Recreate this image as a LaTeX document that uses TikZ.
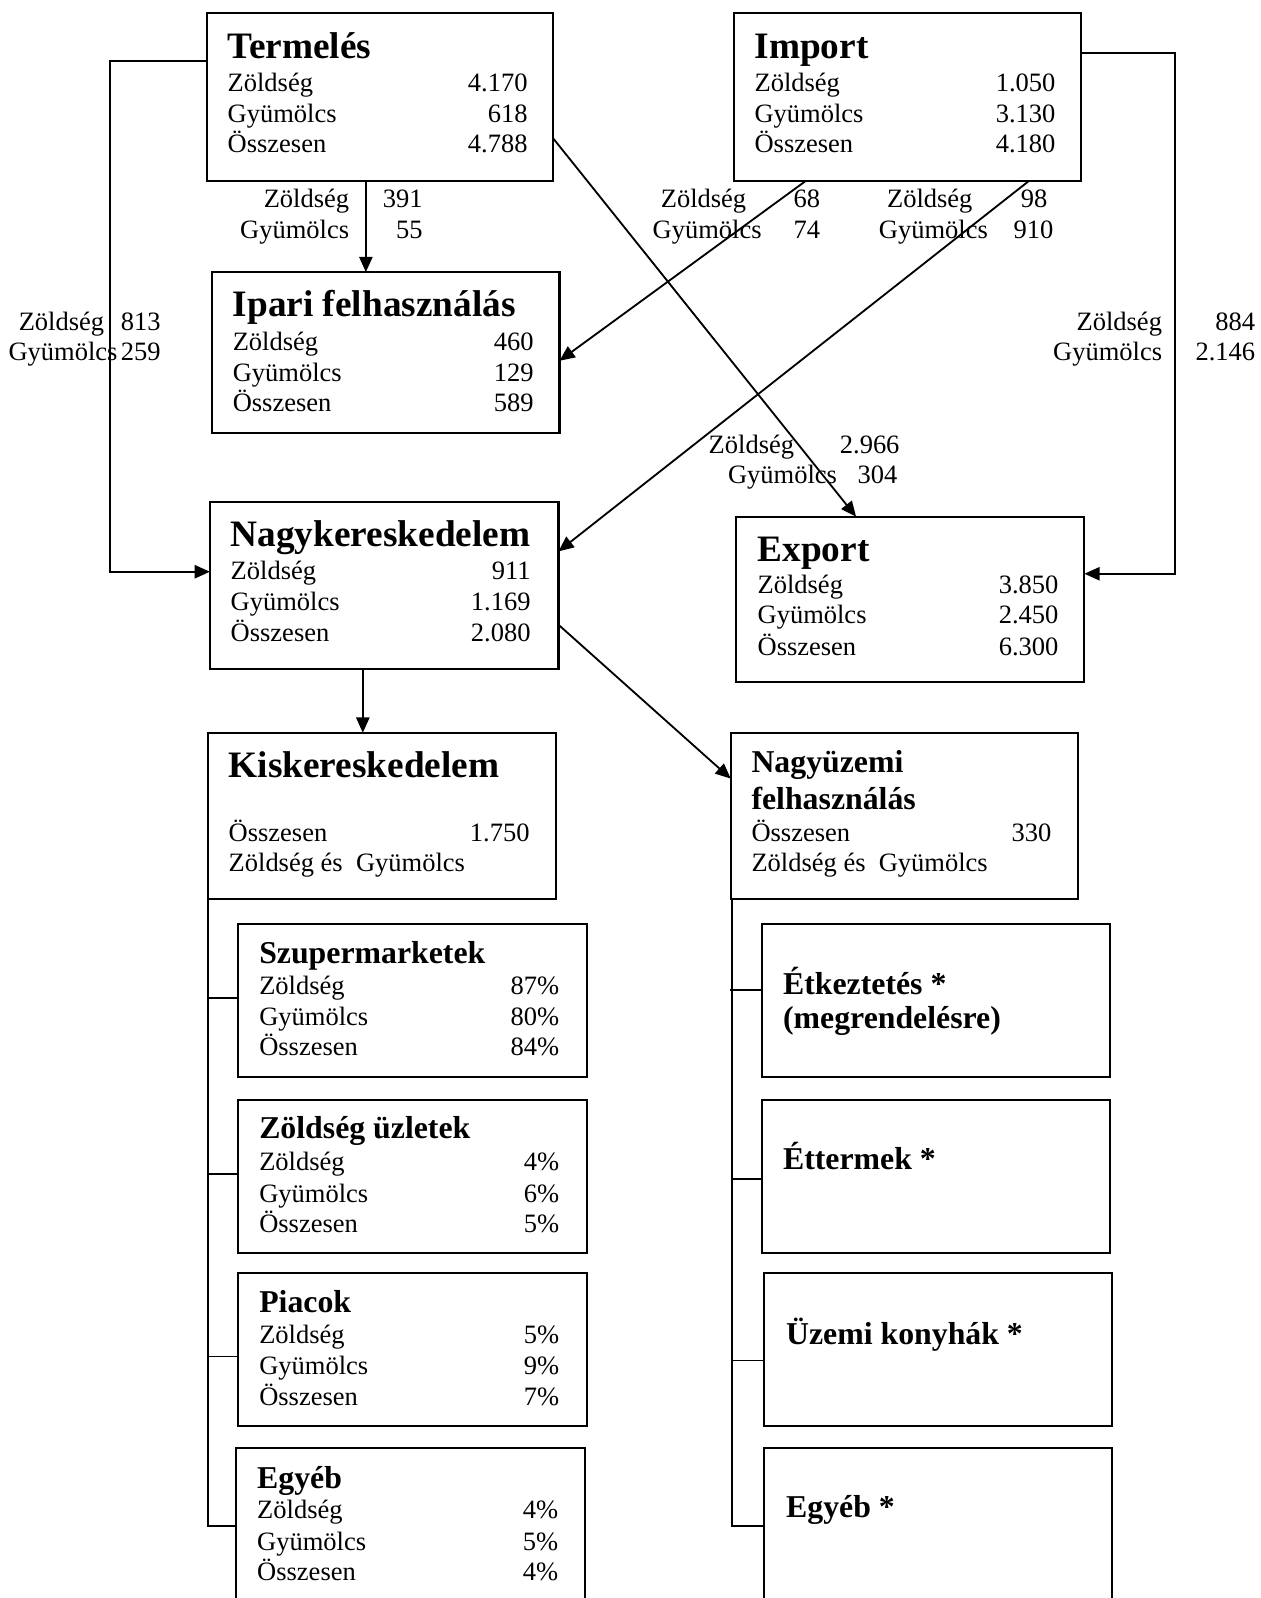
\documentclass[tikz,border=0pt]{standalone}
\usepackage{fontspec}
\setmainfont{Liberation Serif}
\usetikzlibrary{arrows.meta}
\begin{document}
\begin{tikzpicture}[x=0.5pt,y=-0.5pt,
  box/.style={draw,line width=1pt,inner sep=0pt,outer sep=0pt,anchor=north west},
  bigbox/.style={box,minimum width=171pt,minimum height=81.5pt},
  smallbox/.style={box,minimum width=171pt,minimum height=75pt},
  conn/.style={line width=0.9pt},
  arr/.style={conn,-{Triangle[length=7.5pt,width=6.5pt]}},
  ttl/.style={anchor=base west,inner sep=0pt,font=\fontsize{18.3}{20}\selectfont\bfseries},
  sttl/.style={anchor=base west,inner sep=0pt,font=\fontsize{15.6}{18}\selectfont\bfseries},
  lt/.style={anchor=base west,inner sep=0pt,font=\fontsize{13}{15}\selectfont},
  rt/.style={anchor=base east,inner sep=0pt,font=\fontsize{13}{15}\selectfont},
]
\clip (0,0) rectangle (1237,1568);
\fill[white] (0,0) rectangle (1237,1568);

% ---------- boxes ----------
\node[box,minimum width=170pt,minimum height=82.5pt] (term) at (203,13) {};
\node[box,minimum width=170.5pt,minimum height=82.5pt] (imp) at (720,13) {};
\node[box,minimum width=170.5pt,minimum height=79pt] (ipari) at (208,267) {};
\node[bigbox] (nagyker) at (206,493) {};
\node[box,minimum width=171pt,minimum height=81pt] (export) at (722,507) {};
\node[bigbox] (kisker) at (204,719) {};
\node[box,minimum width=170.5pt,minimum height=81.5pt] (nagyuz) at (717,719) {};
\node[smallbox] (szuper) at (234,907) {};
\node[smallbox] (zoldu) at (234,1079) {};
\node[smallbox] (piac) at (234,1249) {};
\node[box,minimum width=171pt,minimum height=82pt] (egyeb) at (232,1421) {};
\node[box,minimum width=170.5pt,minimum height=75pt] (etkez) at (748,907) {};
\node[box,minimum width=170.5pt,minimum height=75pt] (etterm) at (748,1079) {};
\node[box,minimum width=170.5pt,minimum height=75pt] (uzemi) at (750,1249) {};
\node[box,minimum width=170.5pt,minimum height=82pt] (egyebk) at (750,1421) {};

% ---------- box texts ----------
% Termelés
\node[ttl] (termT) at (223,57) {Termelés};
\node[lt] (termZ) at (223,90) {Zöldség};   \node[rt] (termZv) at (518,90) {4.170};
\node[lt] (termG) at (223,120) {Gyümölcs}; \node[rt] (termGv) at (518,120) {618};
\node[lt] (termO) at (223,150) {Összesen}; \node[rt] (termOv) at (518,150) {4.788};
% Import
\node[ttl] (impT) at (740,57) {Import};
\node[lt] (impZ) at (740,90) {Zöldség};   \node[rt] (impZv) at (1036,90) {1.050};
\node[lt] (impG) at (740,120) {Gyümölcs}; \node[rt] (impGv) at (1036,120) {3.130};
\node[lt] (impO) at (740,150) {Összesen}; \node[rt] (impOv) at (1036,150) {4.180};
% Ipari
\node[ttl] (ipT) at (228,311) {Ipari felhasználás};
\node[lt] (ipZ) at (228,344) {Zöldség};   \node[rt] (ipZv) at (524,344) {460};
\node[lt] (ipG) at (228,374) {Gyümölcs}; \node[rt] (ipGv) at (524,374) {129};
\node[lt] (ipO) at (228,404) {Összesen}; \node[rt] (ipOv) at (524,404) {589};
% Nagykereskedelem
\node[ttl] (nkT) at (226,536) {Nagykereskedelem};
\node[lt] (nkZ) at (226,569) {Zöldség};   \node[rt] (nkZv) at (521,569) {911};
\node[lt] (nkG) at (226,599) {Gyümölcs}; \node[rt] (nkGv) at (521,599) {1.169};
\node[lt] (nkO) at (226,629) {Összesen}; \node[rt] (nkOv) at (521,629) {2.080};
% Export
\node[ttl] (exT) at (743,551) {Export};
\node[lt] (exZ) at (743,582) {Zöldség};   \node[rt] (exZv) at (1039,582) {3.850};
\node[lt] (exG) at (743,612) {Gyümölcs}; \node[rt] (exGv) at (1039,612) {2.450};
\node[lt] (exO) at (743,643) {Összesen}; \node[rt] (exOv) at (1039,643) {6.300};
% Kiskereskedelem
\node[ttl] (kkT) at (224,763) {Kiskereskedelem};
\node[lt] (kkO) at (224,826) {Összesen}; \node[rt] (kkOv) at (520,826) {1.750};
\node[lt] (kkZ) at (224,855) {Zöldség és~\ Gyümölcs};
% Nagyüzemi
\node[sttl] (nuT1) at (737,758) {Nagyüzemi};
\node[sttl] (nuT2) at (737,794) {felhasználás};
\node[lt] (nuO) at (737,826) {Összesen}; \node[rt] (nuOv) at (1032,826) {330};
\node[lt] (nuZ) at (737,855) {Zöldség és~\ Gyümölcs};
% Szupermarketek
\node[sttl] (szT) at (254,945) {Szupermarketek};
\node[lt] (szZ) at (254,976) {Zöldség};   \node[rt] (szZv) at (549,976) {87\%};
\node[lt] (szG) at (254,1006) {Gyümölcs}; \node[rt] (szGv) at (549,1006) {80\%};
\node[lt] (szO) at (254,1036) {Összesen}; \node[rt] (szOv) at (549,1036) {84\%};
% Zöldség üzletek
\node[sttl] (zuT) at (254,1117) {Zöldség üzletek};
\node[lt] (zuZ) at (254,1149) {Zöldség};   \node[rt] (zuZv) at (549,1149) {4\%};
\node[lt] (zuG) at (254,1180) {Gyümölcs}; \node[rt] (zuGv) at (549,1180) {6\%};
\node[lt] (zuO) at (254,1209) {Összesen}; \node[rt] (zuOv) at (549,1209) {5\%};
% Piacok
\node[sttl] (piT) at (254,1288) {Piacok};
\node[lt] (piZ) at (254,1318) {Zöldség};   \node[rt] (piZv) at (549,1318) {5\%};
\node[lt] (piG) at (254,1349) {Gyümölcs}; \node[rt] (piGv) at (549,1349) {9\%};
\node[lt] (piO) at (254,1379) {Összesen}; \node[rt] (piOv) at (549,1379) {7\%};
% Egyéb
\node[sttl] (egT) at (252,1461) {Egyéb};
\node[lt] (egZ) at (252,1490) {Zöldség};   \node[rt] (egZv) at (548,1490) {4\%};
\node[lt] (egG) at (252,1521) {Gyümölcs}; \node[rt] (egGv) at (548,1521) {5\%};
\node[lt] (egO) at (252,1551) {Összesen}; \node[rt] (egOv) at (548,1551) {4\%};
% right column sub-boxes
\node[sttl] (etT1) at (768,976) {Étkeztetés *};
\node[sttl] (etT2) at (768,1009) {(megrendelésre)};
\node[sttl] (ettT) at (768,1148) {Éttermek *};
\node[sttl] (uzT) at (771,1319) {Üzemi konyhák *};
\node[sttl] (ekT) at (771,1489) {Egyéb *};

% ---------- edge labels ----------
\node[rt] (l1a) at (343,204) {Zöldség};  \node[rt] (l1b) at (415,204) {391};
\node[rt] (l1c) at (343,234) {Gyümölcs}; \node[rt] (l1d) at (415,234) {55};
\node[lt] (l2a) at (648,204) {Zöldség};  \node[rt] (l2b) at (805,204) {68};
\node[lt] (l2c) at (640,234) {Gyümölcs}; \node[rt] (l2d) at (805,234) {74};
\node[lt] (l3a) at (870,204) {Zöldség};  \node[rt] (l3b) at (1028,204) {98};
\node[lt] (l3c) at (862,234) {Gyümölcs}; \node[rt] (l3d) at (1034,234) {910};
\node[lt] (l4a) at (18,324) {Zöldség};   \node[rt] (l4b) at (158,324) {813};
\node[lt] (l4c) at (8,354) {Gyümölcs};   \node[rt] (l4d) at (158,354) {259};
\node[lt] (l5a) at (1056,324) {Zöldség};  \node[rt] (l5b) at (1232,324) {884};
\node[lt] (l5c) at (1033,354) {Gyümölcs}; \node[rt] (l5d) at (1232,354) {2.146};
\node[lt] (l6a) at (695,445) {Zöldség};  \node[rt] (l6b) at (883,445) {2.966};
\node[lt] (l6c) at (714,474) {Gyümölcs}; \node[rt] (l6d) at (881,474) {304};

% ---------- connectors ----------
\coordinate (lcorner) at (108,60);
\coordinate (rcorner) at (1153,52);
\draw[arr] (term.west |- lcorner) -- (lcorner) |- (nagyker.west |- 0,561);
\draw[arr] (term.south -| 359,0) -- (ipari.north -| 359,0);
\draw[arr] (term.east |- 0,136) -- (export.north -| 840,0);
\draw[arr] (imp.south -| 790,0) -- (ipari.east |- 0,354);
\draw[arr] (imp.south -| 1009,0) -- (nagyker.east |- 0,541);
\draw[arr] (imp.east |- rcorner) -- (rcorner) |- (export.east |- 0,563);
\draw[arr] (nagyker.south -| 356,0) -- (kisker.north -| 356,0);
\draw[arr] (nagyker.east |- 0,613) -- (nagyuz.west |- 0,764);

% left tree
\draw[conn] (kisker.south west) -- (kisker.south west |- 0,1497) -- (egyeb.west |- 0,1497);
\draw[conn] (kisker.south west |- 0,979) -- (szuper.west |- 0,979);
\draw[conn] (kisker.south west |- 0,1152) -- (zoldu.west |- 0,1152);
\draw[conn] (kisker.south west |- 0,1331) -- (piac.west |- 0,1331);
% right tree
\draw[conn] (nagyuz.south west) ++(1,0) coordinate (rtop) -- (rtop |- 0,1497) -- (egyebk.west |- 0,1497);
\draw[conn] (716,971) coordinate (s1) -- (etkez.west |- s1);
\draw[conn] (rtop |- 0,1157) -- (etterm.west |- 0,1157);
\draw[conn] (rtop |- 0,1335) -- (uzemi.west |- 0,1335);
\end{tikzpicture}
\end{document}
